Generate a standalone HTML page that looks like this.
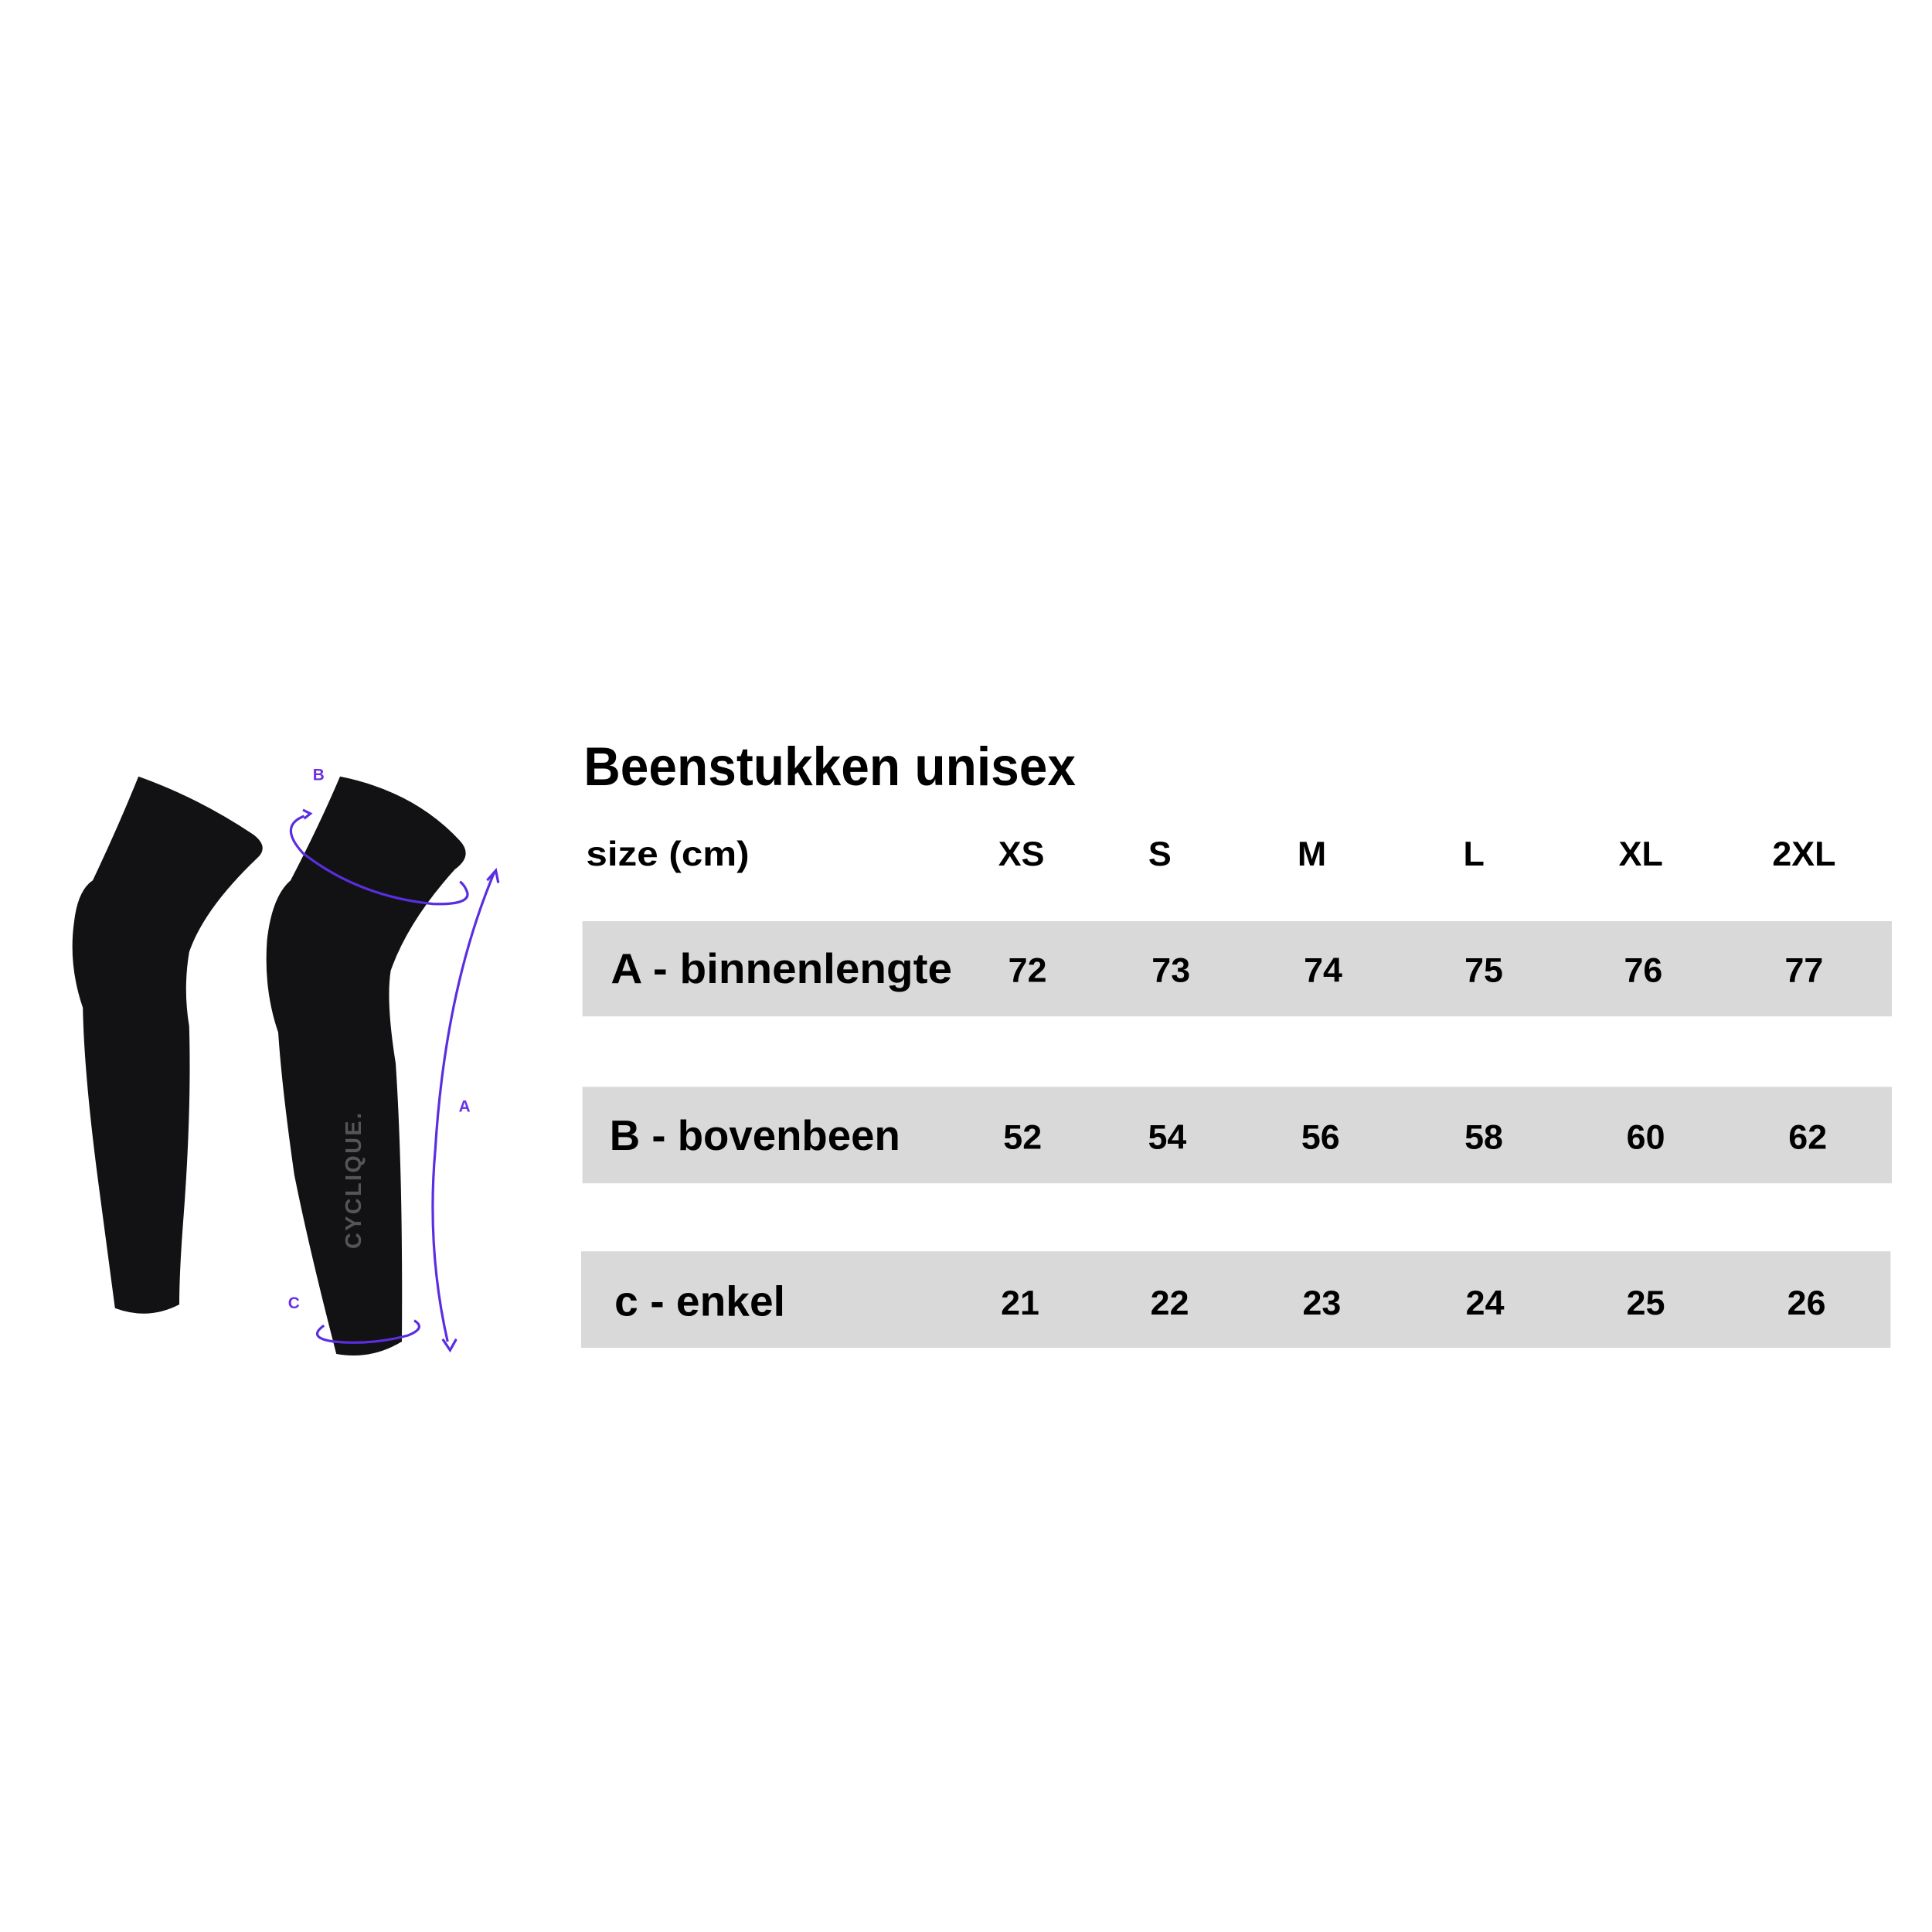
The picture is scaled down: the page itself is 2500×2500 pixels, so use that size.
<!DOCTYPE html>
<html><head><meta charset="utf-8"><style>
html,body{margin:0;padding:0;background:#fff;}
svg{display:block;}
</style></head><body>
<svg width="2500" height="2500" viewBox="0 0 1562.5 1562.5" xmlns="http://www.w3.org/2000/svg">
<rect width="1562.5" height="1562.5" fill="#fff"/>
<!-- legs -->
<path d="M112,628 Q160,645 205,675 Q218,685 208,694 Q165,735 153,770 Q148,800 153,830 Q155,900 148,990 Q145,1030 145,1055 Q120,1068 93,1058 L80,960 Q68,870 67,815 Q55,780 60,745 Q63,720 75,712 Q95,670 112,628 Z" fill="#121214"/>
<path d="M275,628 Q335,640 372,680 Q383,692 368,703 Q330,745 316,785 Q312,810 320,860 Q326,950 325,1085 Q300,1100 272,1095 Q250,1010 238,950 Q228,880 225,835 Q213,800 216,760 Q220,725 235,712 Q258,668 275,628 Z" fill="#121214"/>
<text transform="translate(292,1010) rotate(-90)" font-family="Liberation Sans, sans-serif" font-size="18" font-weight="bold" fill="#555" letter-spacing="1.5">CYCLIQUE.</text>
<!-- measurement lines -->
<g fill="none" stroke="#5a2ee0" stroke-width="2">
<path d="M246,660 Q225,668 245,690 Q290,725 350,731 Q380,732 378,722 Q376,716 372,713"/>
<path d="M245,655 l6,3 l-5,4"/>
<path d="M400,705 Q360,800 352,930 Q345,1010 362,1085"/>
<path d="M394,712 l7,-8 l2,10"/>
<path d="M358,1083 l6,9 l5,-9"/>
<path d="M262,1072 Q248,1082 270,1085 Q300,1088 330,1080 Q345,1074 335,1068"/>
</g>
<g font-family="Liberation Sans, sans-serif" font-size="13" font-weight="bold" fill="#6a30e8">
<text x="253" y="631">B</text><text x="371" y="899">A</text><text x="233" y="1058">C</text>
</g>
<!-- table -->
<rect x="471" y="745" width="1059" height="77" fill="#d9d9d9"/>
<rect x="471" y="879" width="1059" height="78" fill="#d9d9d9"/>
<rect x="470" y="1012" width="1059" height="78" fill="#d9d9d9"/>
<g font-family="Liberation Sans Narrow, Liberation Sans, sans-serif" font-weight="bold" fill="#000">
<text x="472" y="635" font-size="44" textLength="398" lengthAdjust="spacingAndGlyphs">Beenstukken unisex</text>
<g font-size="28">
<text x="474" y="700" textLength="132" lengthAdjust="spacingAndGlyphs">size (cm)</text>
<text x="826" y="700" text-anchor="middle">XS</text>
<text x="938" y="700" text-anchor="middle">S</text>
<text x="1061" y="700" text-anchor="middle">M</text>
<text x="1192" y="700" text-anchor="middle">L</text>
<text x="1327" y="700" text-anchor="middle">XL</text>
<text x="1459" y="700" text-anchor="middle">2XL</text>
</g>
<g font-size="34">
<text x="494" y="795" textLength="276" lengthAdjust="spacingAndGlyphs">A - binnenlengte</text>
<text x="493" y="930" textLength="235" lengthAdjust="spacingAndGlyphs">B - bovenbeen</text>
<text x="497" y="1064" textLength="138" lengthAdjust="spacingAndGlyphs">c - enkel</text>
</g>
<g font-size="28" text-anchor="middle">
<text x="831" y="794">72</text><text x="947" y="794">73</text><text x="1070" y="794">74</text><text x="1200" y="794">75</text><text x="1329" y="794">76</text><text x="1459" y="794">77</text>
<text x="827" y="929">52</text><text x="944" y="929">54</text><text x="1068" y="929">56</text><text x="1200" y="929">58</text><text x="1331" y="929">60</text><text x="1462" y="929">62</text>
<text x="825" y="1063">21</text><text x="946" y="1063">22</text><text x="1069" y="1063">23</text><text x="1201" y="1063">24</text><text x="1331" y="1063">25</text><text x="1461" y="1063">26</text>
</g>
</g>
</svg>
</body></html>
